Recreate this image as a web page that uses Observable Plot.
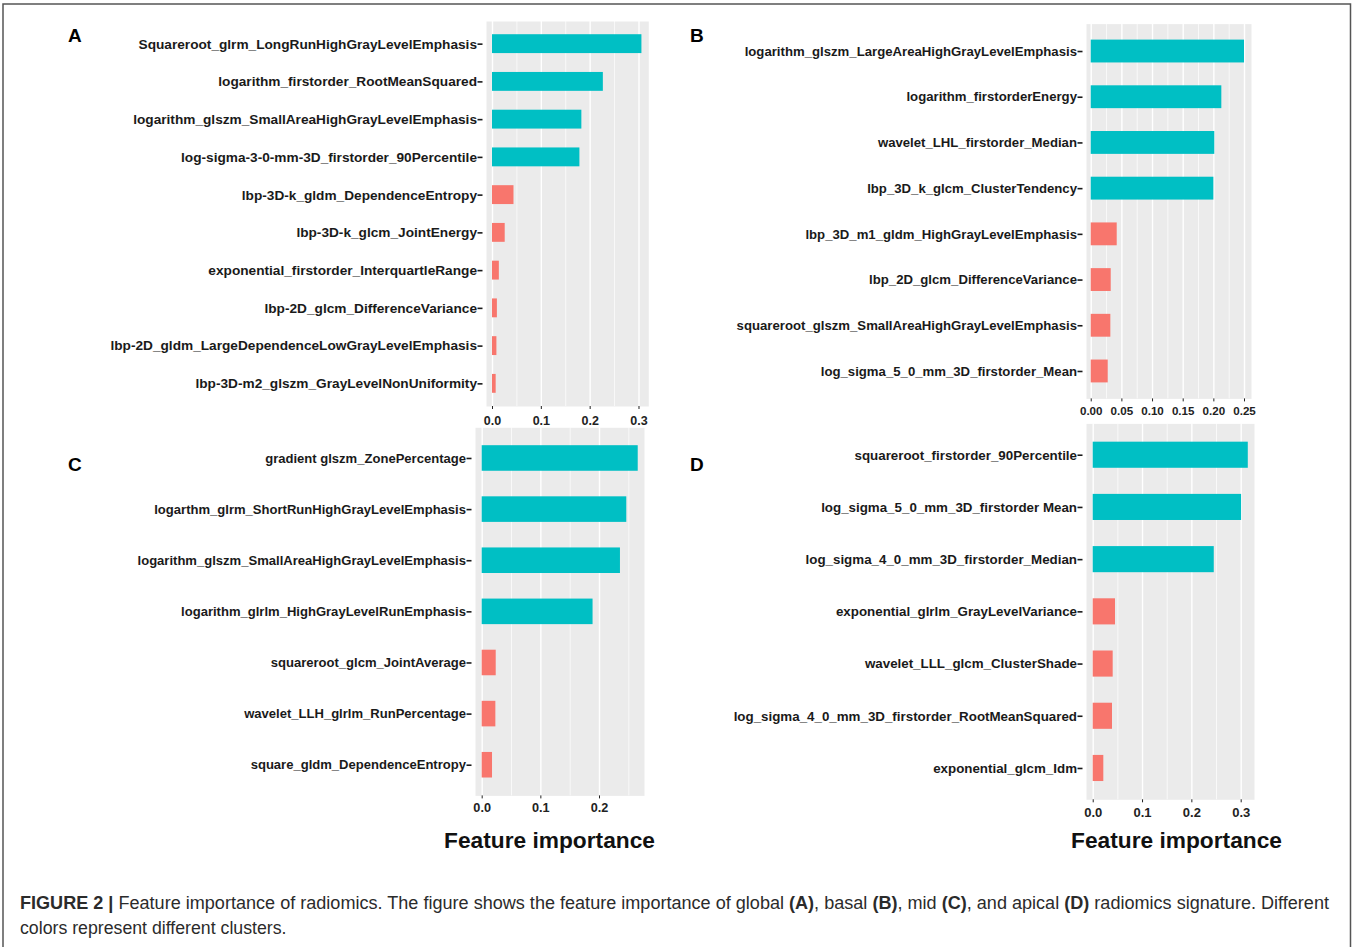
<!DOCTYPE html>
<html>
<head>
<meta charset="utf-8">
<script src="https://cdn.jsdelivr.net/npm/d3@7"></script>
<script src="https://cdn.jsdelivr.net/npm/@observablehq/plot@0.6"></script>
<style>
  html, body { margin: 0; padding: 0; background: #fff; }
  #fig { position: relative; width: 1357px; height: 947px; overflow: hidden; background: #fff;
         font-family: "Liberation Sans", Arial, sans-serif; }
  .panel { position: absolute; }
  #overlay { position: absolute; left: 0; top: 0; }
</style>
</head>
<body>
<div id="fig"></div>
<script>
// ---------- DATA ----------
const clusterColors = ["#00BFC4", "#F8766D"];

const featuresA = [
  "Squareroot_glrm_LongRunHighGrayLevelEmphasis",
  "logarithm_firstorder_RootMeanSquared",
  "logarithm_glszm_SmallAreaHighGrayLevelEmphasis",
  "log-sigma-3-0-mm-3D_firstorder_90Percentile",
  "lbp-3D-k_gldm_DependenceEntropy",
  "lbp-3D-k_glcm_JointEnergy",
  "exponential_firstorder_InterquartleRange",
  "lbp-2D_glcm_DifferenceVariance",
  "lbp-2D_gldm_LargeDependenceLowGrayLevelEmphasis",
  "lbp-3D-m2_glszm_GrayLevelNonUniformity"
];
const importanceA = [0.306, 0.227, 0.183, 0.179, 0.044, 0.026, 0.014, 0.010, 0.009, 0.0075];
const clusterA = [1, 1, 1, 1, 2, 2, 2, 2, 2, 2];
const majorTicksA = [0, 0.1, 0.2, 0.3];
const minorTicksA = [0.05, 0.15, 0.25];

const featuresB = [
  "logarithm_glszm_LargeAreaHighGrayLevelEmphasis",
  "logarithm_firstorderEnergy",
  "wavelet_LHL_firstorder_Median",
  "lbp_3D_k_glcm_ClusterTendency",
  "lbp_3D_m1_gldm_HighGrayLevelEmphasis",
  "lbp_2D_glcm_DifferenceVariance",
  "squareroot_glszm_SmallAreaHighGrayLevelEmphasis",
  "log_sigma_5_0_mm_3D_firstorder_Mean"
];
const importanceB = [0.250, 0.213, 0.2015, 0.200, 0.0424, 0.0326, 0.032, 0.0277];
const clusterB = [1, 1, 1, 1, 2, 2, 2, 2];
const majorTicksB = [0, 0.05, 0.10, 0.15, 0.20, 0.25];
const minorTicksB = [0.025, 0.075, 0.125, 0.175, 0.225];

const featuresC = [
  "gradient glszm_ZonePercentage",
  "logarthm_glrm_ShortRunHighGrayLevelEmphasis",
  "logarithm_glszm_SmallAreaHighGrayLevelEmphasis",
  "logarithm_glrlm_HighGrayLevelRunEmphasis",
  "squareroot_glcm_JointAverage",
  "wavelet_LLH_glrlm_RunPercentage",
  "square_gldm_DependenceEntropy"
];
const importanceC = [0.266, 0.2465, 0.2357, 0.189, 0.0239, 0.0233, 0.0176];
const clusterC = [1, 1, 1, 1, 2, 2, 2];
const majorTicksC = [0, 0.1, 0.2];
const minorTicksC = [0.05, 0.15, 0.25];

const featuresD = [
  "squareroot_firstorder_90Percentile",
  "log_sigma_5_0_mm_3D_firstorder Mean",
  "log_sigma_4_0_mm_3D_firstorder_Median",
  "exponential_glrlm_GrayLevelVariance",
  "wavelet_LLL_glcm_ClusterShade",
  "log_sigma_4_0_mm_3D_firstorder_RootMeanSquared",
  "exponential_glcm_Idm"
];
const importanceD = [0.3144, 0.3008, 0.2454, 0.0452, 0.0405, 0.0391, 0.0215];
const clusterD = [1, 1, 1, 2, 2, 2, 2];
const majorTicksD = [0, 0.1, 0.2, 0.3];
const minorTicksD = [0.05, 0.15, 0.25];

const axisTitle = "Feature importance";
const captionBold = "FIGURE 2 |";
const captionLine1 = " Feature importance of radiomics. The figure shows the feature importance of global ";
const captionLine2 = "colors represent different clusters.";

// ---------- LAYOUT ----------
const FONT = "'Liberation Sans', Arial, sans-serif";
const ctx = document.createElement("canvas").getContext("2d");
function fitSize(text, target, weight = "bold") {
  ctx.font = `${weight} 100px 'Liberation Sans'`;
  return 100 * target / ctx.measureText(text).width;
}

const panels = [
  { letter: "A", features: featuresA, values: importanceA, clusters: clusterA,
    major: majorTicksA, minor: minorTicksA, fmt: ".1f",
    box: [0, 0, 680, 440], frame: [486, 648.3, 21, 406], xDomain: [-0.0123, 0.3201],
    ref: ["lbp-2D_gldm_LargeDependenceLowGrayLevelEmphasis", 366.7], tickFs: 12.5, tickPad: 6.5 },
  { letter: "B", features: featuresB, values: importanceB, clusters: clusterB,
    major: majorTicksB, minor: minorTicksB, fmt: ".2f",
    box: [680, 0, 677, 430], frame: [1086, 1251, 23.6, 398.4], xDomain: [-0.0077, 0.2614],
    ref: ["logarithm_glszm_LargeAreaHighGrayLevelEmphasis", 332.7], tickFs: 11.6, tickPad: 4.5 },
  { letter: "C", features: featuresC, values: importanceC, clusters: clusterC,
    major: majorTicksC, minor: minorTicksC, fmt: ".1f",
    box: [0, 415, 680, 420], frame: [475, 644, 427.3, 795.4], xDomain: [-0.0114, 0.2767],
    ref: ["logarithm_glszm_SmallAreaHighGrayLevelEmphasis", 329], tickFs: 12.7, tickPad: 4 },
  { letter: "D", features: featuresD, values: importanceD, clusters: clusterD,
    major: majorTicksD, minor: minorTicksD, fmt: ".1f",
    box: [680, 415, 677, 420], frame: [1086, 1254, 423.4, 799.3], xDomain: [-0.0136, 0.3270],
    ref: ["log_sigma_4_0_mm_3D_firstorder_RootMeanSquared", 343.7], tickFs: 13, tickPad: 5 }
];

const fig = document.getElementById("fig");

for (const p of panels) {
  const [bx, by, bw, bh] = p.box;
  const [fx0, fx1, fy0, fy1] = p.frame;
  const data = p.features.map((f, i) => ({ feature: f, value: p.values[i], cluster: p.clusters[i] }));
  const labelFs = fitSize(p.ref[0], p.ref[1]);
  const chart = Plot.plot({
    width: bw,
    height: bh,
    marginLeft: fx0 - bx,
    marginRight: bx + bw - fx1,
    marginTop: fy0 - by,
    marginBottom: by + bh - fy1,
    style: { background: "transparent", overflow: "visible", fontFamily: FONT },
    x: { domain: p.xDomain },
    y: { domain: p.features, paddingInner: 0.5, paddingOuter: 0.35, align: 0.5, round: false },
    color: { type: "ordinal", domain: [1, 2], range: clusterColors },
    marks: [
      Plot.frame({ fill: "#EBEBEB", stroke: "none" }),
      Plot.ruleX(p.minor, { stroke: "white", strokeWidth: 0.7 }),
      Plot.ruleX(p.major, { stroke: "white", strokeWidth: 1.4 }),
      Plot.barX(data, { x: "value", y: "feature", fill: "cluster" }),
      Plot.axisY({ tickSize: 5, tickPadding: 1, dx: -3.5, fontSize: labelFs, fontWeight: "bold",
                   color: "#1a1a1a", strokeWidth: 1.6, label: null }),
      Plot.axisX(p.major, { tickSize: 3, tickPadding: p.tickPad, tickFormat: d3.format(p.fmt),
                   fontSize: p.tickFs, fontWeight: "bold", color: "#222", label: null })
    ]
  });
  chart.classList.add("panel");
  chart.style.left = bx + "px";
  chart.style.top = by + "px";
  fig.appendChild(chart);
}

// ---------- OVERLAY TEXT ----------
const NS = "http://www.w3.org/2000/svg";
const ov = document.createElementNS(NS, "svg");
ov.setAttribute("id", "overlay");
ov.setAttribute("width", 1357);
ov.setAttribute("height", 947);
fig.appendChild(ov);
function addText(str, x, y, attrs = {}) {
  const t = document.createElementNS(NS, "text");
  t.setAttribute("x", x); t.setAttribute("y", y);
  t.setAttribute("font-family", FONT);
  for (const k in attrs) t.setAttribute(k, attrs[k]);
  t.textContent = str;
  ov.appendChild(t);
  return t;
}
// outer border
const border = document.createElementNS(NS, "path");
border.setAttribute("d", "M3,947V4H1350.5V947");
border.setAttribute("fill", "none");
border.setAttribute("stroke", "#555");
border.setAttribute("stroke-width", 1.5);
ov.appendChild(border);

// panel letters
const letterPos = { A: [68, 41.5], B: [690, 41.5], C: [68, 470.6], D: [690, 470.6] };
for (const p of panels) {
  const [lx, ly] = letterPos[p.letter];
  addText(p.letter, lx, ly, { "font-size": 19, "font-weight": "bold", fill: "#000" });
}
// axis titles
const titleFs = fitSize(axisTitle, 211);
addText(axisTitle, 549.5, 848, { "font-size": titleFs, "font-weight": "bold", "text-anchor": "middle", fill: "#111" });
addText(axisTitle, 1176.5, 848, { "font-size": titleFs, "font-weight": "bold", "text-anchor": "middle", fill: "#111" });

// caption
const cap1 = addText("", 20, 909, { "font-size": 17.5, fill: "#2b2b2b", textLength: 1309, lengthAdjust: "spacingAndGlyphs" });
function tspan(parent, str, bold) {
  const s = document.createElementNS(NS, "tspan");
  if (bold) s.setAttribute("font-weight", "bold");
  s.textContent = str;
  parent.appendChild(s);
}
tspan(cap1, captionBold, true);
tspan(cap1, captionLine1, false);
tspan(cap1, "(A)", true);
tspan(cap1, ", basal ", false);
tspan(cap1, "(B)", true);
tspan(cap1, ", mid ", false);
tspan(cap1, "(C)", true);
tspan(cap1, ", and apical ", false);
tspan(cap1, "(D)", true);
tspan(cap1, " radiomics signature. Different", false);
addText(captionLine2, 20, 934, { "font-size": 17.5, fill: "#2b2b2b", textLength: 266.5, lengthAdjust: "spacingAndGlyphs" });
</script>
</body>
</html>
